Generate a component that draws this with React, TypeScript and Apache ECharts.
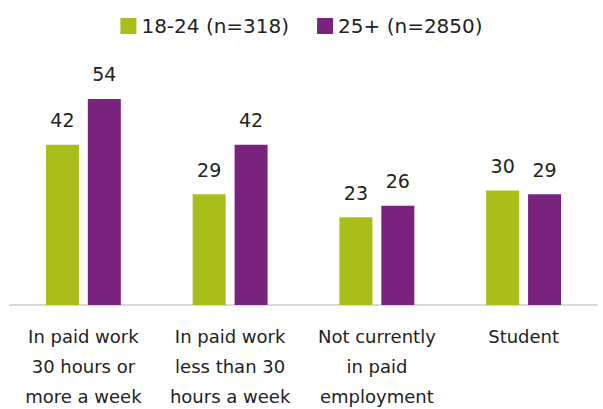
import React, { useEffect, useRef } from "react";
import * as echarts from "echarts";

const categories = [
  "In paid work\n30 hours or\nmore a week",
  "In paid work\nless than 30\nhours a week",
  "Not currently\nin paid\nemployment",
  "Student",
];
const seriesNames = ["18-24 (n=318)", "25+ (n=2850)"];
const young = [42, 29, 23, 30];
const older = [54, 42, 26, 29];
const colors = ["#a9be1b", "#79237f"];

export default function App() {
  const ref = useRef<HTMLDivElement>(null);
  useEffect(() => {
    if (!ref.current) return;
    const chart = echarts.init(ref.current, null, { renderer: "svg" });
    const font = "'DejaVu Sans', sans-serif";
    const labelStyle = {
      show: true,
      position: "top" as const,
      distance: 15,
      color: "#222",
      fontSize: 19,
      fontFamily: font,
    };
    chart.setOption({
      animation: false,
      color: colors,
      legend: {
        top: 11,
        left: "center",
        itemWidth: 16,
        itemHeight: 16,
        itemGap: 28,
        icon: "rect",
        textStyle: { fontSize: 20, color: "#222", fontFamily: font },
        data: seriesNames,
      },
      grid: { left: 10, right: 6, top: 76, bottom: 104, outerBoundsMode: "none", containLabel: false },
      xAxis: {
        type: "category",
        data: categories,
        axisTick: { show: false },
        axisLine: { lineStyle: { color: "#d9d9d9", width: 2 } },
        axisLabel: {
          interval: 0,
          margin: 16,
          fontSize: 18,
          lineHeight: 30,
          color: "#222",
          fontFamily: font,
        },
      },
      yAxis: { type: "value", min: 0, max: 60, show: false, splitLine: { show: false } },
      series: [
        { name: seriesNames[0], type: "bar", data: young, barWidth: 33, barGap: "27%", label: labelStyle },
        { name: seriesNames[1], type: "bar", data: older, barWidth: 33, barGap: "27%", label: labelStyle },
      ],
    });
    return () => chart.dispose();
  }, []);
  return <div ref={ref} style={{ width: 603, height: 409, position: "absolute", left: 0, top: 0 }} />;
}
